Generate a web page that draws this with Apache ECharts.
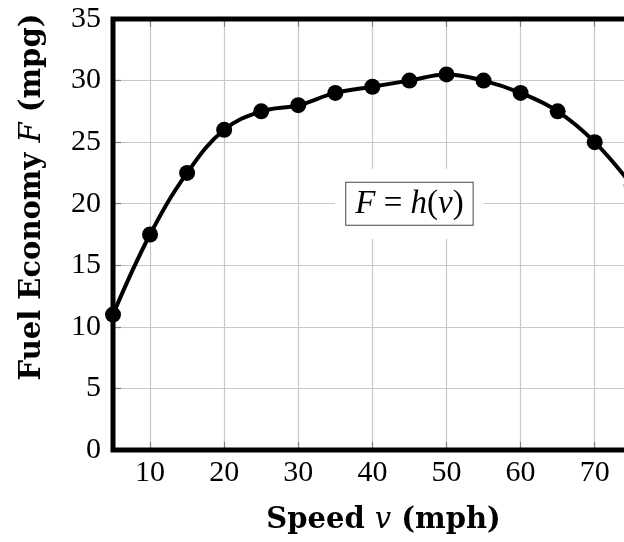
<!DOCTYPE html>
<html>
<head>
<meta charset="utf-8">
<script src="https://cdn.jsdelivr.net/npm/echarts@6/dist/echarts.min.js"></script>
<style>
html,body{margin:0;padding:0;background:#fff;}
#chart{width:624px;height:542px;}
</style>
</head>
<body>
<div id="chart"></div>
<script>
var speeds = [5, 10, 15, 20, 25, 30, 35, 40, 45, 50, 55, 60, 65, 70, 75];
var economy = [11, 17.5, 22.5, 26, 27.5, 28, 29, 29.5, 30, 30.5, 30, 29, 27.5, 25, 21.5];
var xRange = [5, 78];
var yRange = [0, 35];
var yStep = 5;
var xStep = 10;
var labelPos = [45, 20];
var xTitle = 'Speed';
var yTitle = 'Fuel Economy';

var serif = '"Liberation Serif", "DejaVu Serif", serif';
var titleFont = '"DejaVu Serif", "Liberation Serif", serif';

var chart = echarts.init(document.getElementById('chart'), null, {renderer: 'canvas'});

var option = {
  backgroundColor: '#ffffff',
  animation: false,
  grid: {
    left: 113, top: 19, width: 541, height: 431,
    show: true, borderColor: '#000', borderWidth: 5, backgroundColor: 'transparent',
    containLabel: false, outerBoundsMode: 'none', z: 3
  },
  xAxis: [{
    type: 'value', min: xRange[0], max: xRange[1],
    minInterval: xStep, maxInterval: xStep, splitNumber: 7,
    axisLine: {show: false},
    axisTick: {show: true, inside: true, length: 8, lineStyle: {color: '#808080', width: 1.2}},
    splitLine: {show: true, lineStyle: {color: '#c8c8c8', width: 1.2}},
    axisLabel: {
      margin: 8, color: '#000', fontFamily: serif, fontSize: 30,
      showMinLabel: false, showMaxLabel: false,
      formatter: function (v) { return (v % xStep === 0) ? String(v) : ''; }
    },
    name: '{b|' + xTitle + ' }{i|v}{b| (mph)}',
    nameLocation: 'middle', nameGap: 56,
    nameTextStyle: {
      rich: {
        b: {fontFamily: titleFont, fontWeight: 'bold', fontSize: 29, color: '#000'},
        i: {fontFamily: titleFont, fontStyle: 'italic', fontSize: 29, color: '#000'}
      }
    }
  }, {
    type: 'value', position: 'top', min: xRange[0], max: xRange[1],
    minInterval: xStep, maxInterval: xStep, splitNumber: 7,
    axisLine: {show: false},
    axisTick: {show: true, inside: true, length: 8, lineStyle: {color: '#808080', width: 1.2}},
    splitLine: {show: false},
    axisLabel: {show: false}
  }],
  yAxis: {
    type: 'value', min: yRange[0], max: yRange[1], interval: yStep,
    axisLine: {show: false},
    axisTick: {show: true, inside: true, length: 8, lineStyle: {color: '#808080', width: 1.2}},
    splitLine: {show: true, lineStyle: {color: '#c8c8c8', width: 1.2}},
    axisLabel: {margin: 12, color: '#000', fontFamily: serif, fontSize: 30}
  },
  series: [{
    type: 'line',
    data: speeds.map(function (s, i) { return [s, economy[i]]; }),
    smooth: 0.4,
    symbol: 'circle', symbolSize: 16,
    lineStyle: {color: '#000', width: 4},
    itemStyle: {color: '#000', opacity: 1},
    z: 5
  }, {
    type: 'scatter',
    data: [labelPos],
    symbol: 'rect', symbolSize: [149, 70],
    itemStyle: {color: '#ffffff', opacity: 1},
    silent: true,
    z: 4,
    label: {
      show: true, position: 'inside',
      formatter: '{r|F} {n|=} {r|h}{n|(}{r|v}{n|)}',
      fontFamily: serif, fontSize: 33, color: '#000', opacity: 1,
      textBorderWidth: 0,
      backgroundColor: '#ffffff', borderColor: '#444', borderWidth: 1,
      padding: [5, 9, 4, 9],
      rich: {
        r: {fontFamily: serif, fontStyle: 'italic', fontSize: 33, color: '#000', textBorderWidth: 0},
        n: {fontFamily: serif, fontSize: 33, color: '#000', textBorderWidth: 0}
      }
    },
    emphasis: {disabled: true}
  }],
  graphic: [{
    type: 'text',
    x: 32, y: 197,
    rotation: Math.PI / 2,
    style: {
      text: '{b|' + yTitle + ' }{i|F}{b| (mpg)}',
      textAlign: 'center', textVerticalAlign: 'middle',
      rich: {
        b: {fontFamily: titleFont, fontWeight: 'bold', fontSize: 29, fill: '#000'},
        i: {fontFamily: titleFont, fontStyle: 'italic', fontSize: 29, fill: '#000'}
      }
    }
  }]
};
chart.setOption(option);
</script>
</body>
</html>
